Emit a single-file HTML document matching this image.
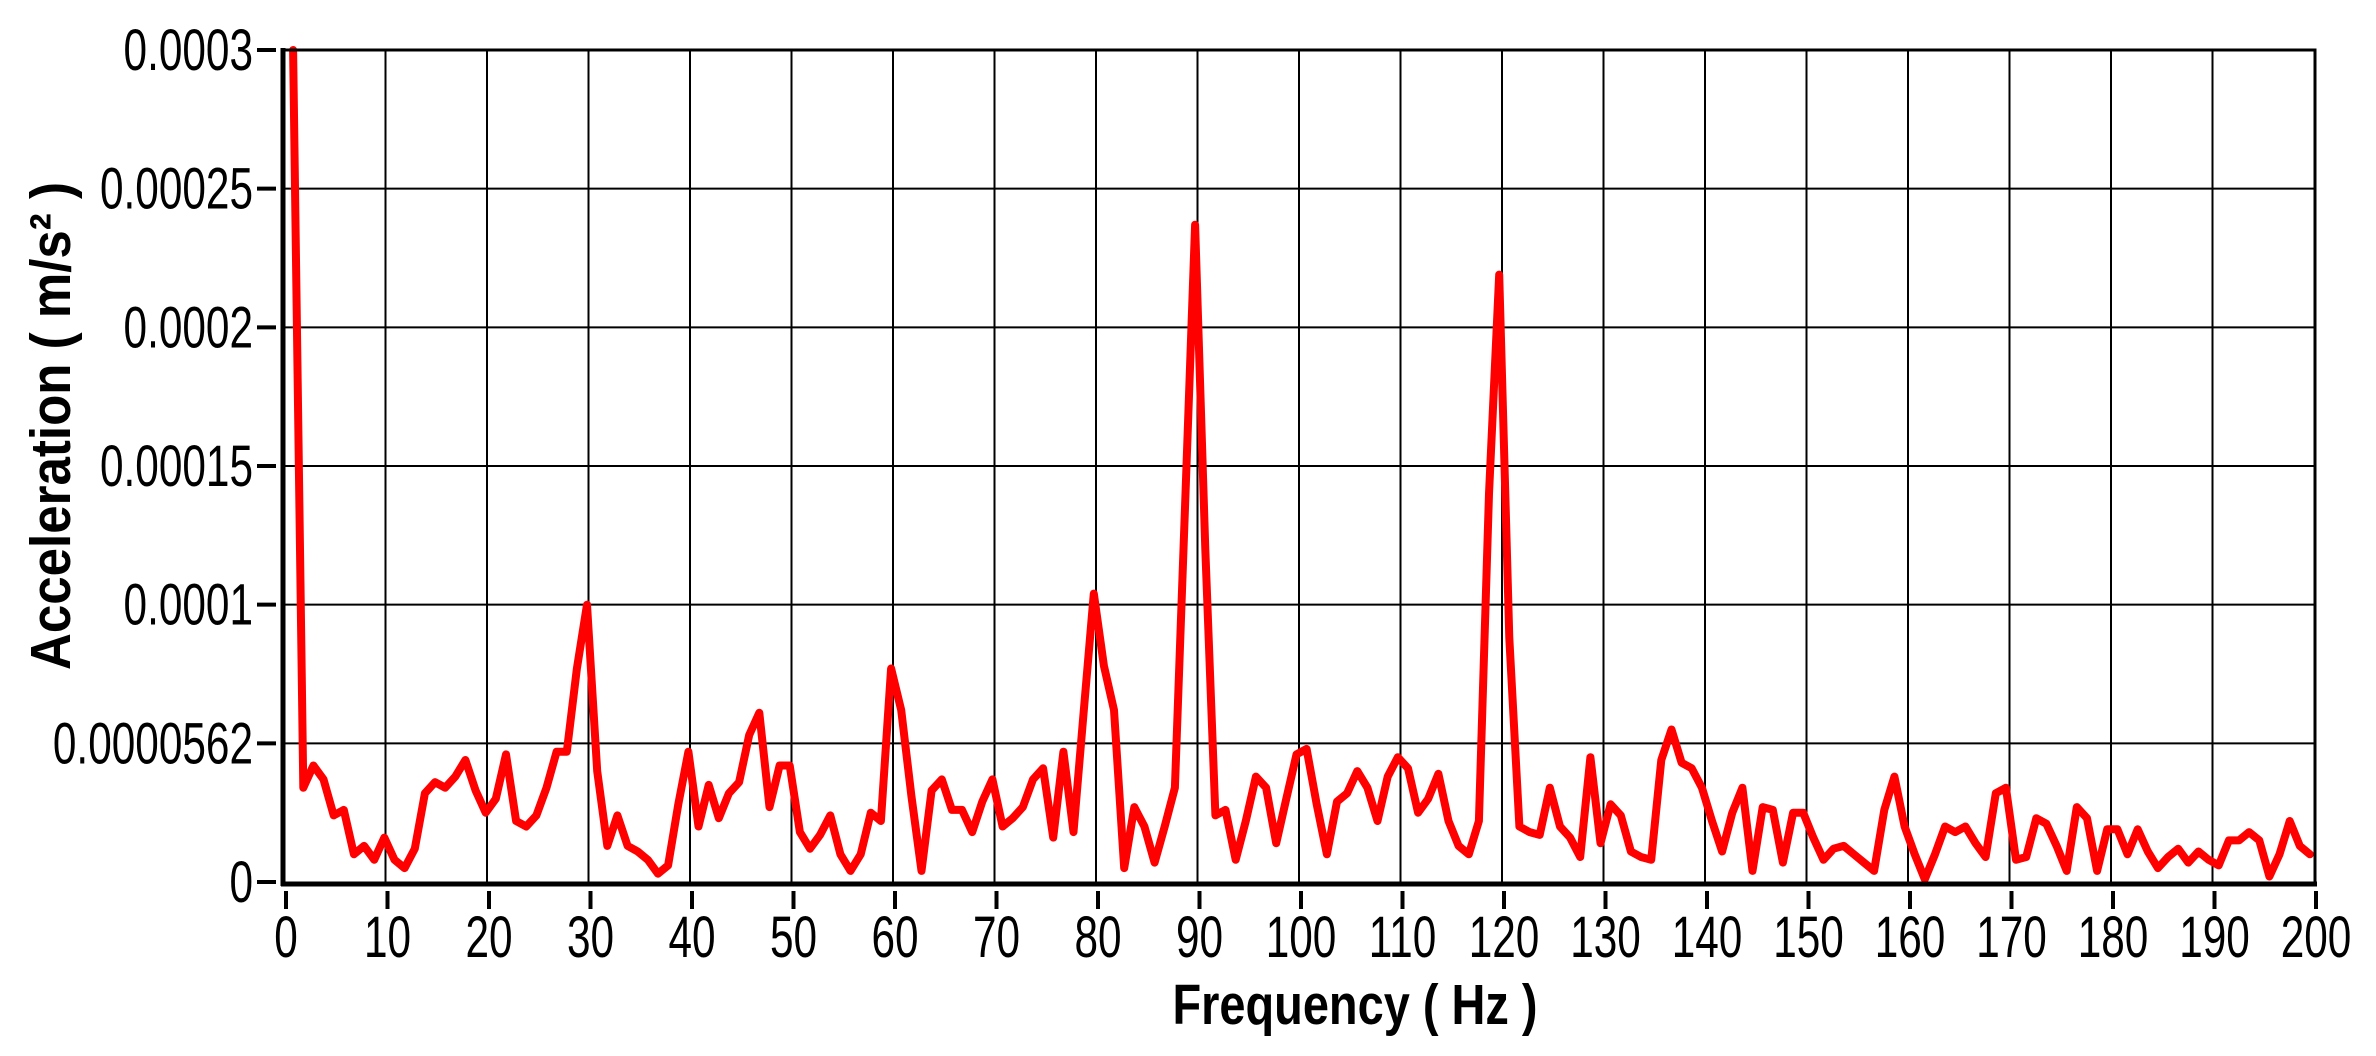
<!DOCTYPE html>
<html><head><meta charset="utf-8"><style>
html,body{margin:0;padding:0;background:#fff;}
svg{display:block;}
text{font-family:"Liberation Sans",Arial,sans-serif;fill:#000;}
</style></head><body>
<svg id="chart" width="2376" height="1056" viewBox="0 0 2376 1056" xmlns="http://www.w3.org/2000/svg">
<g id="grid"></g>
<g id="ticks"></g>
<path id="series" fill="none" stroke="#ff0000" stroke-width="8" stroke-linejoin="round" stroke-linecap="round"></path>
<rect x="283" y="50" width="2032" height="833" fill="none" stroke="#000" stroke-width="3"></rect>
<line x1="281" y1="884" x2="2317" y2="884" stroke="#000" stroke-width="5"></line>
<line x1="283" y1="48" x2="283" y2="886" stroke="#000" stroke-width="5"></line>
<text x="1355" y="1024" font-size="57" font-weight="bold" text-anchor="middle" textLength="365" lengthAdjust="spacingAndGlyphs">Frequency ( Hz )</text>
<text transform="translate(70,426) rotate(-90)" x="0" y="0" font-size="57" font-weight="bold" text-anchor="middle" textLength="488" lengthAdjust="spacingAndGlyphs">Acceleration ( m/s² )</text>
</svg>
<script>
const xTicks = [0,10,20,30,40,50,60,70,80,90,100,110,120,130,140,150,160,170,180,190,200];
const yTicks = [0,0.00005,0.0001,0.00015,0.0002,0.00025,0.0003];
const yTickLabels = ["0","0.0000562","0.0001","0.00015","0.0002","0.00025","0.0003"];
const freqStart = 0.9, freqEnd = 199.6;
// values in units of 1e-5 m/s^2
const accel = [30,3.4,4.2,3.7,2.4,2.6,1.0,1.3,0.8,1.6,0.8,0.5,1.2,3.2,3.6,3.4,3.8,4.4,3.3,2.5,3.0,4.6,2.2,2.0,2.4,3.4,4.7,4.7,7.7,10.0,4.0,1.3,2.4,1.3,1.1,0.8,0.3,0.6,2.8,4.7,2.0,3.5,2.3,3.2,3.6,5.3,6.1,2.7,4.2,4.2,1.8,1.2,1.7,2.4,1.0,0.4,1.0,2.5,2.2,7.7,6.2,3.1,0.4,3.3,3.7,2.6,2.6,1.8,2.9,3.7,2.0,2.3,2.7,3.7,4.1,1.6,4.7,1.8,6.1,10.4,7.8,6.2,0.5,2.7,2.0,0.7,2.0,3.4,13.5,23.7,12.0,2.4,2.6,0.8,2.2,3.8,3.4,1.4,3.0,4.6,4.8,2.8,1.0,2.9,3.2,4.0,3.4,2.2,3.8,4.5,4.1,2.5,3.0,3.9,2.2,1.3,1.0,2.2,14.0,21.9,8.8,2.0,1.8,1.7,3.4,2.0,1.6,0.9,4.5,1.4,2.8,2.4,1.1,0.9,0.8,4.4,5.5,4.3,4.1,3.4,2.2,1.1,2.5,3.4,0.4,2.7,2.6,0.7,2.5,2.5,1.6,0.8,1.2,1.3,1.0,0.7,0.4,2.6,3.8,2.0,1.0,0.1,1.0,2.0,1.8,2.0,1.4,0.9,3.2,3.4,0.8,0.9,2.3,2.1,1.3,0.4,2.7,2.3,0.4,1.9,1.9,1.0,1.9,1.1,0.5,0.9,1.2,0.7,1.1,0.8,0.6,1.5,1.5,1.8,1.5,0.2,1.0,2.2,1.3,1.0];

const NS = "http://www.w3.org/2000/svg";
const X0 = 284, XPX = 10.15; // px per Hz
const Y0 = 882, YTOP = 50, YMAX = 0.0003;
function xs(f){ return X0 + f * XPX; }
function ys(v){ return Y0 - (v / YMAX) * (Y0 - YTOP); }

const grid = document.getElementById('grid');
const ticks = document.getElementById('ticks');

xTicks.forEach(function(t){
  const x = xs(t);
  if (t > 0 && t < 200) {
    const g = document.createElementNS(NS,'line');
    g.setAttribute('x1',x); g.setAttribute('x2',x); g.setAttribute('y1',YTOP); g.setAttribute('y2',Y0);
    g.setAttribute('stroke','#000'); g.setAttribute('stroke-width','2');
    
    
    grid.appendChild(g);
  }
  const tk = document.createElementNS(NS,'line');
  tk.setAttribute('x1',x+2); tk.setAttribute('x2',x+2); tk.setAttribute('y1',891); tk.setAttribute('y2',909);
  tk.setAttribute('stroke','#000'); tk.setAttribute('stroke-width','4');
  
  
  ticks.appendChild(tk);
  const lb = document.createElementNS(NS,'text');
  lb.setAttribute('transform','translate('+(x+2)+',957) scale(0.73,1)');
  lb.setAttribute('font-size','58');
  lb.setAttribute('text-anchor','middle');
  lb.textContent = String(t);
  
  
  ticks.appendChild(lb);
});

yTicks.forEach(function(t,i){
  const y = ys(t);
  if (t > 0 && t < YMAX) {
    const g = document.createElementNS(NS,'line');
    g.setAttribute('x1',X0); g.setAttribute('x2',2315); g.setAttribute('y1',y); g.setAttribute('y2',y);
    g.setAttribute('stroke','#000'); g.setAttribute('stroke-width','2');
    
    
    grid.appendChild(g);
  }
  const tk = document.createElementNS(NS,'line');
  tk.setAttribute('x1',257); tk.setAttribute('x2',276); tk.setAttribute('y1',y); tk.setAttribute('y2',y);
  tk.setAttribute('stroke','#000'); tk.setAttribute('stroke-width','4');
  
  
  ticks.appendChild(tk);
  const lb = document.createElementNS(NS,'text');
  lb.setAttribute('transform','translate(253,'+(y+20)+') scale(0.73,1)');
  lb.setAttribute('font-size','58');
  lb.setAttribute('text-anchor','end');
  lb.textContent = yTickLabels[i];
  
  
  ticks.appendChild(lb);
});

const n = accel.length;
const step = (freqEnd - freqStart) / (n - 1);
let d = '';
accel.forEach(function(v,i){
  const f = freqStart + i * step;
  d += (i ? 'L' : 'M') + xs(f).toFixed(1) + ',' + ys(v * 1e-5).toFixed(1);
});
document.getElementById('series').setAttribute('d', d);
</script>
</body></html>
